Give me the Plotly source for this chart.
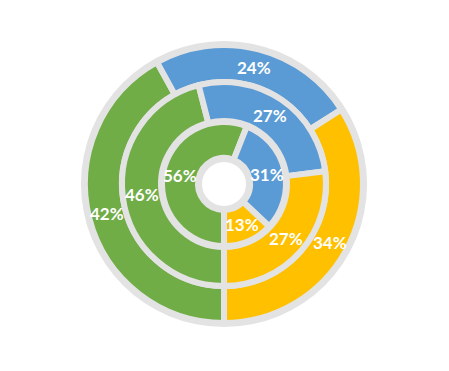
import numpy as np
import plotly.graph_objects as go

# Data (each ring: green, blue, yellow in clockwise order starting at 6 o'clock)
categories = ["Green", "Blue", "Yellow"]
outer_values = [42, 24, 34]
middle_values = [46, 27, 27]
inner_values = [56, 31, 13]

colors = ["#70AD47", "#5B9BD5", "#FFC000"]
gap_color = "#E3E3E3"

# page body has an 8px margin, so the figure is sized to fit inside the window
W, H = 433, 355
CX, CY = 216, 179  # centre in px (y measured from bottom)
START_ANGLE = 180  # first slice starts at 6 o'clock


def dom(r):
    return dict(x=[(CX - r) / W, (CX + r) / W], y=[(CY - r) / H, (CY + r) / H])


fig = go.Figure()

# gray background disc with white centre
fig.add_trace(go.Pie(values=[1], labels=["bg"], domain=dom(143), hole=22 / 143,
                     marker=dict(colors=[gap_color], line=dict(width=0)),
                     textinfo="none", hoverinfo="skip", sort=False, showlegend=False))

# (values, outer radius, inner radius, label radius)
rings = [(outer_values, 139, 102, 120.5),
         (middle_values, 102, 63, 82.5),
         (inner_values, 62, 26, 44.5)]

annotations = []
for vals, R, r, rl in rings:
    fig.add_trace(go.Pie(
        values=vals, labels=categories, domain=dom(R), hole=r / R,
        sort=False, direction="clockwise", rotation=START_ANGLE,
        marker=dict(colors=colors, line=dict(color=gap_color, width=6)),
        textinfo="none", hoverinfo="label+value", showlegend=False))
    v = np.array(vals, dtype=float)
    mids = START_ANGLE + 360 * (np.cumsum(v) - v / 2) / v.sum()
    for val, ang in zip(vals, np.radians(mids)):
        annotations.append(dict(
            x=CX + rl * np.sin(ang), y=CY + rl * np.cos(ang), xref="x", yref="y",
            text=f"{val}%", showarrow=False, xanchor="center", yanchor="middle",
            font=dict(color="white", size=17, family="Lato", weight="bold")))

# hidden pixel-scaled axes used to place the data labels
fig.add_trace(go.Scatter(x=[], y=[], showlegend=False, hoverinfo="skip"))
fig.update_xaxes(range=[0, W], visible=False, fixedrange=True)
fig.update_yaxes(range=[0, H], visible=False, fixedrange=True)

fig.update_layout(width=W, height=H, margin=dict(l=0, r=0, t=0, b=0),
                  paper_bgcolor="white", plot_bgcolor="rgba(0,0,0,0)",
                  annotations=annotations)

fig.write_html("out.html")
